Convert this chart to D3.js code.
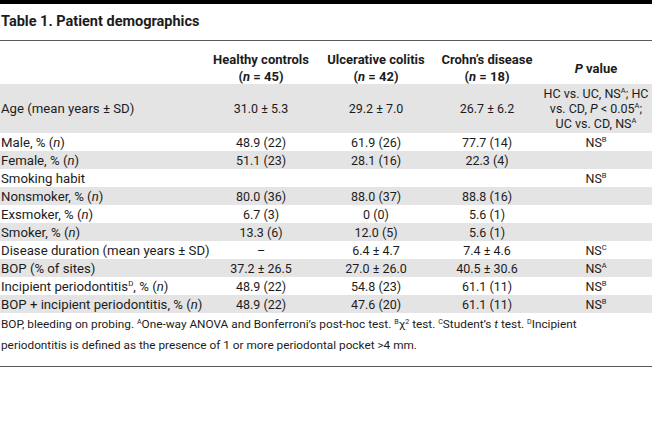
<!DOCTYPE html>
<html><head><meta charset="utf-8">
<script src="https://cdn.jsdelivr.net/npm/d3@7"></script>
<style>
html,body{margin:0;padding:0;background:#fff;}
svg{display:block;font-family:Roboto,"Open Sans",sans-serif;}
</style></head>
<body>
<svg id="chart" width="652" height="439"></svg>
<script>
// ---- DATA ----
const title = "Table 1. Patient demographics";
const columnHeaders = [
  ["Healthy controls", "(_n_ = 45)"],
  ["Ulcerative colitis", "(_n_ = 42)"],
  ["Crohn’s disease", "(_n_ = 18)"],
  ["_P_ value"]
];
const rowLabels = [
  "Age (mean years ± SD)",
  "Male, % (_n_)",
  "Female, % (_n_)",
  "Smoking habit",
  "Nonsmoker, % (_n_)",
  "Exsmoker, % (_n_)",
  "Smoker, % (_n_)",
  "Disease duration (mean years ± SD)",
  "BOP (% of sites)",
  "Incipient periodontitis^D^, % (_n_)",
  "BOP + incipient periodontitis, % (_n_)"
];
const healthyControls = ["31.0 ± 5.3","48.9 (22)","51.1 (23)","","80.0 (36)","6.7 (3)","13.3 (6)","–","37.2 ± 26.5","48.9 (22)","48.9 (22)"];
const ulcerativeColitis = ["29.2 ± 7.0","61.9 (26)","28.1 (16)","","88.0 (37)","0 (0)","12.0 (5)","6.4 ± 4.7","27.0 ± 26.0","54.8 (23)","47.6 (20)"];
const crohnsDisease = ["26.7 ± 6.2","77.7 (14)","22.3 (4)","","88.8 (16)","5.6 (1)","5.6 (1)","7.4 ± 4.6","40.5 ± 30.6","61.1 (11)","61.1 (11)"];
const pValues = [
  ["HC vs. UC, NS^A^; HC", "vs. CD, _P_ < 0.05^A^;", "UC vs. CD, NS^A^"],
  ["NS^B^"], [""], ["NS^B^"], [""], [""], [""], ["NS^C^"], ["NS^A^"], ["NS^B^"], ["NS^B^"]
];
const footnotes = [
  "BOP, bleeding on probing. ^A^One-way ANOVA and Bonferroni’s post-hoc test. ^B^χ^2^ test. ^C^Student’s _t_ test. ^D^Incipient",
  "periodontitis is defined as the presence of 1 or more periodontal pocket >4 mm."
];

// ---- LAYOUT ----
const W = 652;
const textColor = "#1c1c1c";
const shade = "#e4e4e4";
const fs = 12.5;
const labelFs = 13.2;
const svg = d3.select("#chart");

// parse mini markup: _x_ italic, ^x^ superscript
function parse(str){
  const parts = [];
  const re = /(_[^_]+_|\^[^^]+\^)/g;
  let last = 0, m;
  while((m = re.exec(str))){
    if(m.index > last) parts.push({t: str.slice(last, m.index), k: "n"});
    const s = m[0];
    parts.push({t: s.slice(1, -1), k: s[0] === "_" ? "i" : "s"});
    last = m.index + s.length;
  }
  if(last < str.length) parts.push({t: str.slice(last), k: "n"});
  return parts;
}
function rich(sel, str, size){
  const parts = parse(str);
  let raised = false;
  parts.forEach(p => {
    const ts = sel.append("tspan").text(p.t);
    if(p.k === "i") ts.attr("font-style", "italic");
    if(p.k === "s"){
      ts.attr("font-size", size * 0.6).attr("dy", -size * 0.38);
      raised = true;
    } else if(raised){
      ts.attr("dy", size * 0.38);
      raised = false;
    }
  });
}

// rows: heights from number of text lines
const lineCounts = pValues.map(d => d.length);
const rowTop = 84, baseRow = 18, extraLine = 15.5;
const rowHeights = lineCounts.map(n => baseRow + (n - 1) * extraLine);
const rowY = [];
rowHeights.reduce((acc, h, i) => { rowY[i] = acc; return acc + h; }, rowTop);
const tableBottom = rowY[rowY.length - 1] + rowHeights[rowHeights.length - 1];

const colX = d3.scaleOrdinal().domain(d3.range(4)).range([261, 376, 487, 596]);

// top black bar
svg.append("rect").attr("x", 0).attr("y", 0).attr("width", W).attr("height", 4).attr("fill", "#000");
// title
svg.append("text").attr("x", 1).attr("y", 26).attr("font-size", 14.5).attr("font-weight", "bold")
  .attr("fill", textColor).text(title);
svg.append("line").attr("x1", 0).attr("x2", W).attr("y1", 40.5).attr("y2", 40.5)
  .attr("stroke", "#5a5a5a").attr("stroke-width", 1);

// row shading
svg.selectAll("rect.band").data(rowLabels).join("rect").attr("class", "band")
  .attr("x", 0).attr("width", W)
  .attr("y", (d, i) => rowY[i]).attr("height", (d, i) => rowHeights[i])
  .attr("fill", (d, i) => i % 2 === 0 ? shade : "#fff");

// header
columnHeaders.forEach((lines, c) => {
  const mid = 68;
  const lh = 17;
  lines.forEach((ln, j) => {
    const y = mid + (j - (lines.length - 1) / 2) * lh + 4.5;
    const t = svg.append("text").attr("x", colX(c)).attr("y", y).attr("text-anchor", "middle")
      .attr("font-size", 13).attr("font-weight", "bold").attr("fill", textColor);
    rich(t, ln, 13);
  });
});

// body cells
const cols = [healthyControls, ulcerativeColitis, crohnsDisease];
rowLabels.forEach((lab, i) => {
  const cy = rowY[i] + rowHeights[i] / 2;
  const t = svg.append("text").attr("x", 1).attr("y", cy + 4.6).attr("font-size", labelFs).attr("fill", textColor);
  rich(t, lab, labelFs);
  cols.forEach((arr, c) => {
    if(!arr[i]) return;
    svg.append("text").attr("x", colX(c)).attr("y", cy + 4.5).attr("text-anchor", "middle")
      .attr("font-size", fs).attr("fill", textColor).text(arr[i]);
  });
  const pl = pValues[i];
  pl.forEach((ln, j) => {
    if(!ln) return;
    const y = cy + (j - (pl.length - 1) / 2) * 15 + 4.5;
    const t = svg.append("text").attr("x", colX(3)).attr("y", y).attr("text-anchor", "middle")
      .attr("font-size", fs).attr("fill", textColor);
    rich(t, ln, fs);
  });
});

// footnotes
footnotes.forEach((f, j) => {
  const t = svg.append("text").attr("x", 1).attr("y", tableBottom + 15 + j * 21)
    .attr("font-size", 11.8).attr("fill", textColor);
  rich(t, f, 11.8);
});
svg.append("line").attr("x1", 0).attr("x2", W).attr("y1", 366.5).attr("y2", 366.5)
  .attr("stroke", "#5a5a5a").attr("stroke-width", 1);
</script>
</body></html>
